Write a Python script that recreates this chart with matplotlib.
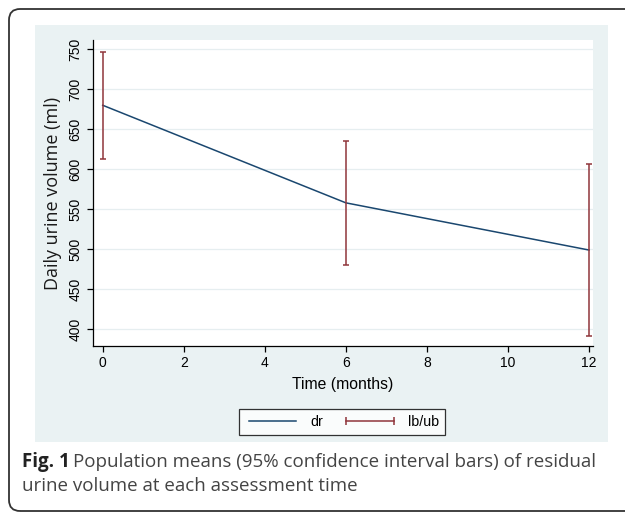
import matplotlib
matplotlib.use('Agg')
import matplotlib.pyplot as plt
from matplotlib.patches import FancyBboxPatch, Rectangle
from matplotlib.lines import Line2D

# data
months = [0, 6, 12]
mean_vol = [680, 558, 499]
lower = [613, 480, 391]
upper = [747, 635, 607]
xticks = [0, 2, 4, 6, 8, 10, 12]
yticks = [400, 450, 500, 550, 600, 650, 700, 750]

navy = '#1a476f'
maroon = '#90353b'
bg = '#eaf2f3'

plt.rcParams['font.family'] = ['Liberation Sans', 'DejaVu Sans']

W, H = 625, 513
fig = plt.figure(figsize=(W / 100, H / 100), dpi=100)

# outer rounded frame (runs off the right edge)
frame = FancyBboxPatch((0.09, 0.02), 6.5, 5.02,
                       boxstyle='round,pad=0,rounding_size=0.11',
                       transform=fig.dpi_scale_trans, fill=False,
                       edgecolor='#333333', linewidth=1.3, zorder=-2)
fig.patches.append(frame)

# stata graph region
gr = Rectangle((35 / 100, (H - 442) / 100), (608 - 35) / 100, (442 - 25) / 100,
               transform=fig.dpi_scale_trans, facecolor=bg, edgecolor='none',
               zorder=-1)
fig.patches.append(gr)

ax = fig.add_axes([93 / W, (H - 346) / H, (593 - 93) / W, (346 - 40) / H])
ax.set_facecolor('white')

ax.plot(months, mean_vol, color=navy, lw=1.1, zorder=3)
yerr = [[m - l for m, l in zip(mean_vol, lower)],
        [u - m for m, u in zip(mean_vol, upper)]]
ax.errorbar(months, mean_vol, yerr=yerr, fmt='none', ecolor=maroon,
            elinewidth=1.1, capsize=2.2, capthick=1.1, zorder=4)

ax.set_xlim(-0.24, 12.1)
ax.set_ylim(379, 761.6)
ax.set_xticks(xticks)
ax.set_yticks(yticks)
ax.set_yticklabels([str(v) for v in yticks], rotation=90, va='center')
ax.grid(axis='y', color='#e6eef0', lw=0.9)
ax.set_axisbelow(True)
for s in ['top', 'right']:
    ax.spines[s].set_visible(False)
for s in ['left', 'bottom']:
    ax.spines[s].set_linewidth(0.9)
ax.tick_params(direction='out', length=4.5, width=0.9, labelsize=10, pad=3)
ax.set_xlabel('Time (months)', fontsize=11.3, labelpad=5)
ax.set_ylabel('Daily urine volume (ml)', fontsize=13, family='Open Sans',
              labelpad=5, color='#1a1a1a')

h1 = Line2D([], [], color=navy, lw=1.1)
h2 = Line2D([], [], color=maroon, lw=1.1, marker='|', markersize=6, markeredgewidth=1.1)
leg = fig.legend([h1, h2], ['dr', 'lb/ub'], loc='center',
                 bbox_to_anchor=(342 / W, 1 - 422 / H), ncol=2,
                 fontsize=10.3, frameon=True, fancybox=False, numpoints=2,
                 handlelength=3.9, columnspacing=1.3, handletextpad=0.7,
                 borderpad=0.4, borderaxespad=0)
leg.get_frame().set_edgecolor('black')
leg.get_frame().set_linewidth(0.9)

# caption
cap_y1 = 1 - 467 / H
cap_y2 = 1 - 491 / H
t1 = fig.text(22 / W, cap_y1, 'Fig. 1', fontsize=13.5, fontweight='bold',
              family='Open Sans', color='#222222', va='baseline')
fig.canvas.draw()
bb = t1.get_window_extent()
fig.text((bb.x1 + 3) / W, cap_y1,
         'Population means (95% confidence interval bars) of residual',
         fontsize=13.5, family='Open Sans', color='#444444', va='baseline')
fig.text(22 / W, cap_y2, 'urine volume at each assessment time',
         fontsize=13.5, family='Open Sans', color='#444444', va='baseline')

fig.savefig('out.png', dpi=100)
